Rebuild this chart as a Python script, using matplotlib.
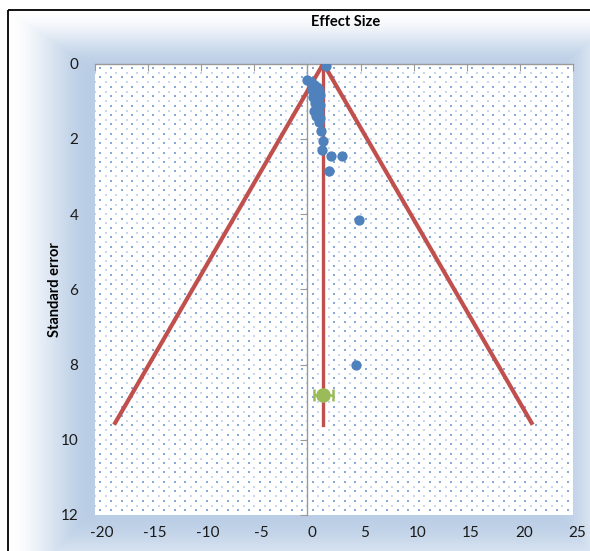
import numpy as np
import matplotlib
matplotlib.use("Agg")
import matplotlib.pyplot as plt
from matplotlib.patches import Rectangle
from matplotlib.transforms import ScaledTranslation

plt.rcParams["axes.unicode_minus"] = False

# ---------------- data ----------------
effect = [1.75, 0.0, 0.3, 0.5, 0.7, 0.9, 1.1, 0.4, 0.8, 1.2, 0.5, 1.0, 0.7, 1.2,
          0.9, 0.6, 1.1, 0.8, 1.2, 1.1, 1.3, 1.5, 1.35, 2.2, 3.3, 2.0, 4.9, 4.6]
std_err = [0.07, 0.45, 0.5, 0.55, 0.6, 0.62, 0.7, 0.7, 0.8, 0.85, 0.9, 0.95, 1.05, 1.1,
           1.2, 1.25, 1.3, 1.4, 1.45, 1.55, 1.8, 2.05, 2.3, 2.47, 2.45, 2.85, 4.15, 8.0]
pooled_effect = 1.5
funnel_se_max = 9.6
funnel_half_width = 19.7
diamond_se = 8.8
ci_low, ci_high = 0.6, 2.4
x_ticks = [-20, -15, -10, -5, 0, 5, 10, 15, 20, 25]
y_ticks = [0, 2, 4, 6, 8, 10, 12]

W, H = 590, 551
fig = plt.figure(figsize=(W / 100, H / 100), dpi=100)

# ---------------- background (gradient chart area) ----------------
bg = fig.add_axes([0, 0, 1, 1])
bg.set_xlim(0, W)
bg.set_ylim(H, 0)
bg.axis("off")
yy, xx = np.mgrid[0:H, 0:W] + 0.5
bx0, by0, bx1, by1 = 8, 10, 630, 600
t = np.minimum.reduce([(xx - bx0) / 85.0, (yy - by0) / 60.0,
                       (bx1 - xx) / 75.0, (by1 - yy) / 90.0])
t = np.clip(t, 0, 1)
t = t * t * (3 - 2 * t)
blue = np.array([185, 205, 229]) / 255.0
white = np.array([1.0, 1.0, 1.0])
img = white[None, None, :] * (1 - t[..., None]) + blue[None, None, :] * t[..., None]
outside = (xx < bx0) | (yy < by0)
img[outside] = 1.0
bg.imshow(img, extent=(0, W, H, 0), interpolation="bilinear", aspect="auto")
bg.add_patch(Rectangle((bx0, by0), 700, 700, fill=False, edgecolor="black", lw=1.3))

# ---------------- main axes ----------------
ax = fig.add_axes([95 / W, 1 - 515 / H, 478 / W, (515 - 63.5) / H])
ax.set_facecolor("white")
ax.set_xlim(-20, 25)
ax.set_ylim(12, 0)

# dotted pattern fill of plot area
gx, gy = np.meshgrid(np.arange(-19.5, 25, 1.0), np.arange(0.12, 12, 0.25))
ax.scatter(gx.ravel(), gy.ravel(), s=1.0, marker="s", color="#86A9D8", lw=0, zorder=0.5)
gx2, gy2 = np.meshgrid(np.arange(-20.0, 25, 1.0), np.arange(0.0, 12, 0.25))
ax.scatter(gx2.ravel(), gy2.ravel(), s=0.7, marker="s", color="#C6D7EE", lw=0, zorder=0.5)

# funnel
ax.plot([pooled_effect - funnel_half_width, pooled_effect, pooled_effect + funnel_half_width],
        [funnel_se_max, 0, funnel_se_max], color="#C0504D", lw=3.0,
        solid_capstyle="butt", solid_joinstyle="miter", zorder=3)
ax.plot([pooled_effect, pooled_effect], [0, funnel_se_max], color="#C0504D", lw=2.4, zorder=3)

# studies
ax.scatter(effect, std_err, s=55, color="#4F81BD", lw=0, zorder=4)

# pooled diamond with CI
ax.errorbar([pooled_effect], [diamond_se],
            xerr=[[pooled_effect - ci_low], [ci_high - pooled_effect]],
            fmt="o", ms=9.5, color="#9BBB59", ecolor="#9BBB59", elinewidth=1.8,
            capsize=4, capthick=1.8, zorder=5)

# axes styling
for s in ["left", "bottom"]:
    ax.spines[s].set_visible(False)
ax.spines["top"].set_color("#9A9A9A")
ax.spines["top"].set_linewidth(1.0)
ax.spines["right"].set_position(("data", 0))
ax.spines["right"].set_color("#9A9A9A")
ax.spines["right"].set_linewidth(1.0)

ax.set_xticks(x_ticks)
ax.set_xticklabels([str(v) for v in x_ticks])
ax.set_yticks(y_ticks)
ax.set_yticklabels([str(v) for v in y_ticks])
ax.tick_params(axis="x", top=True, bottom=False, labeltop=False, labelbottom=True,
               direction="in", length=5, color="#9A9A9A", pad=8)
ax.tick_params(axis="y", right=True, left=False, labelright=False, labelleft=True,
               direction="in", length=5, color="#9A9A9A", pad=12)
for v, lab in zip(x_ticks, ax.get_xticklabels()):
    dx = (7 if v < 0 else 4) / 100
    lab.set_transform(lab.get_transform() + ScaledTranslation(dx, 0, fig.dpi_scale_trans))
for lab in ax.get_xticklabels() + ax.get_yticklabels():
    lab.set_fontfamily("Lato")
    lab.set_fontsize(11)
    lab.set_color("#1a1a1a")

fig.text(346 / W, 1 - 22 / H, "Effect Size", ha="center", va="center",
         fontfamily="Lato", fontweight="bold", fontsize=10.5)
fig.text(55 / W, 1 - 290 / H, "Standard error", ha="center", va="center", rotation=90,
         fontfamily="Lato", fontweight="bold", fontsize=10.5)

fig.savefig("out.png", dpi=100)
